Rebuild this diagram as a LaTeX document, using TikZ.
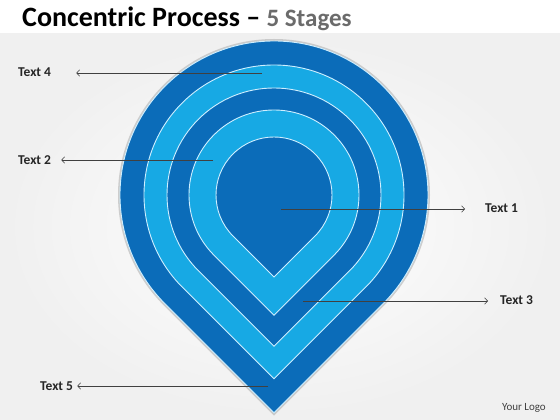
\documentclass[tikz,border=0pt]{standalone}
\usepackage{fontspec}
\setmainfont{Carlito}
\usetikzlibrary{arrows.meta}
\definecolor{dkblue}{HTML}{0B6CB9}
\definecolor{ltblue}{HTML}{17A9E4}
\definecolor{edgeline}{HTML}{CFEFFF}
\newcommand\tdrop[2]{%
  \path[#2] ([shift={(-45:#1)}]C) arc[start angle=-45,end angle=225,radius=#1]
    -- ([shift={(0,{-1.41421*#1})}]C) -- cycle;}
\begin{document}
\begin{tikzpicture}[x=1pt,y=1pt,
  lbl/.style={font=\bfseries\fontsize{13.5}{15}\selectfont, inner sep=0pt, text=black!85},
  arr/.style={draw=black!75, line width=0.6pt, -{Straight Barb[length=3pt,width=6.5pt]}},
  layer/.style={fill=#1, draw=edgeline, line width=0.9pt}]
\useasboundingbox (0,0) rectangle (560,420);
\fill[white] (0,0) rectangle (560,420);
\shade[inner color=white, outer color=black!6] (0,0) rectangle (560,387);
\fill[white] (0,387) rectangle (560,420);
% title
\node[anchor=base west, inner sep=0pt] (title) at (22,393)
  {\fontsize{28}{31}\selectfont\bfseries Concentric Process -- \textcolor{black!58}{\fontsize{25}{29}\selectfont 5 Stages}};
% teardrops
\coordinate (C) at (274,225);
\tdrop{156}{fill=black!30, opacity=0.6}
\tdrop{154}{layer=dkblue}
\tdrop{130}{layer=ltblue}
\tdrop{107}{layer=dkblue}
\tdrop{85}{layer=ltblue}
\tdrop{58}{layer=dkblue}
% labels
\node[lbl, anchor=west] (L4) at (18,348) {Text 4};
\node[lbl, anchor=west] (L2) at (18,260) {Text 2};
\node[lbl, anchor=west] (L1) at (485,212) {Text 1};
\node[lbl, anchor=west] (L3) at (500,120) {Text 3};
\node[lbl, anchor=west] (L5) at (40,34) {Text 5};
\node[anchor=east, inner sep=0pt, font=\fontsize{11}{13}\selectfont, text=black!75] (logo) at (546,12) {Your Logo};
% arrow starts
\coordinate (s4) at (262,347);
\coordinate (s2) at (213,260);
\coordinate (s1) at (281,211);
\coordinate (s3) at (303,119);
\coordinate (s5) at (268,34);
\draw[arr, shorten >=25pt] (s4) -- (s4 -| L4.east);
\draw[arr, shorten >=10pt] (s2) -- (s2 -| L2.east);
\draw[arr, shorten >=20pt] (s1) -- (s1 -| L1.west);
\draw[arr, shorten >=12pt] (s3) -- (s3 -| L3.west);
\draw[arr, shorten >=4pt] (s5) -- (s5 -| L5.east);
\end{tikzpicture}
\end{document}
